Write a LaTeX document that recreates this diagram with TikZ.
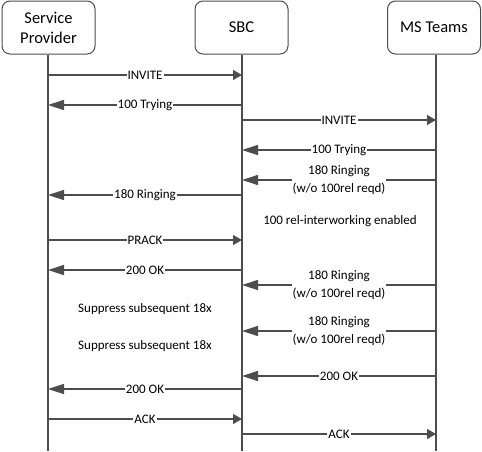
\documentclass[tikz,border=0pt]{standalone}
\usepackage{fontspec}
\setmainfont{Carlito}
\usetikzlibrary{arrows.meta}
\definecolor{linegray}{HTML}{4D4D4D}
\tikzset{
  party/.style={draw=linegray, line width=1pt, rounded corners=8pt,
    minimum width=93pt, minimum height=53pt, align=center,
    font=\fontsize{16.5}{20}\selectfont},
  life/.style={draw=linegray, line width=1.4pt},
  callR/.style={life, -{Triangle[length=9pt,width=10pt]}},
  callL/.style={life, -{Triangle[length=16pt,width=10pt]}},
  lbl/.style={fill=white, inner sep=1pt, align=center,
    font=\fontsize{13}{18}\selectfont},
  note/.style={align=center, font=\fontsize{13}{18}\selectfont},
}

\begin{document}
\begin{tikzpicture}[x=1pt, y=-1pt]
    \useasboundingbox (0,0) rectangle (482,451);

    % parties
    \node [party] (sp) at (48.5, 27.5) {Service\\Provider};
    \node [party] (sbc) at (241.5, 27.5) {SBC};
    \node [party] (ms) at (434, 27.5) {MS Teams};

    % lifelines
    \foreach \n/\x in {sp/48, sbc/242, ms/436} {
        \coordinate (\n-top) at (\x, 54.5);
        \coordinate (\n-bot) at (\x, 451);
        \draw [life] (\n-top) -- (\n-bot);
    }

    % messages
    \foreach \y/\a/\b/\s/\t in {
        75/sp/sbc/callR/INVITE,
        105/sbc/sp/callL/100 Trying,
        120/sbc/ms/callR/INVITE,
        150/ms/sbc/callL/100 Trying,
        180/ms/sbc/callL/{180 Ringing\\(w/o 100rel reqd)},
        195/sbc/sp/callL/180 Ringing,
        240/sp/sbc/callR/PRACK,
        270/sbc/sp/callL/200 OK,
        285/ms/sbc/callL/{180 Ringing\\(w/o 100rel reqd)},
        331/ms/sbc/callL/{180 Ringing\\(w/o 100rel reqd)},
        376/ms/sbc/callL/200 OK,
        389/sbc/sp/callL/200 OK,
        419/sp/sbc/callR/ACK,
        434/sbc/ms/callR/ACK}
        {
        \path (\a-top |- 0,\y) coordinate (m-from)
              (\b-top |- 0,\y) coordinate (m-to);
        \draw [\s] (m-from) -- node [lbl] {\t} (m-to);
    }

    % notes
    \node [note] (interwork) at (340, 221) {100 rel-interworking enabled};
    \node [note] (supp1) at (145, 309) {Suppress subsequent 18x};
    \node [note] (supp2) at (145, 346) {Suppress subsequent 18x};
\end{tikzpicture}
\end{document}
